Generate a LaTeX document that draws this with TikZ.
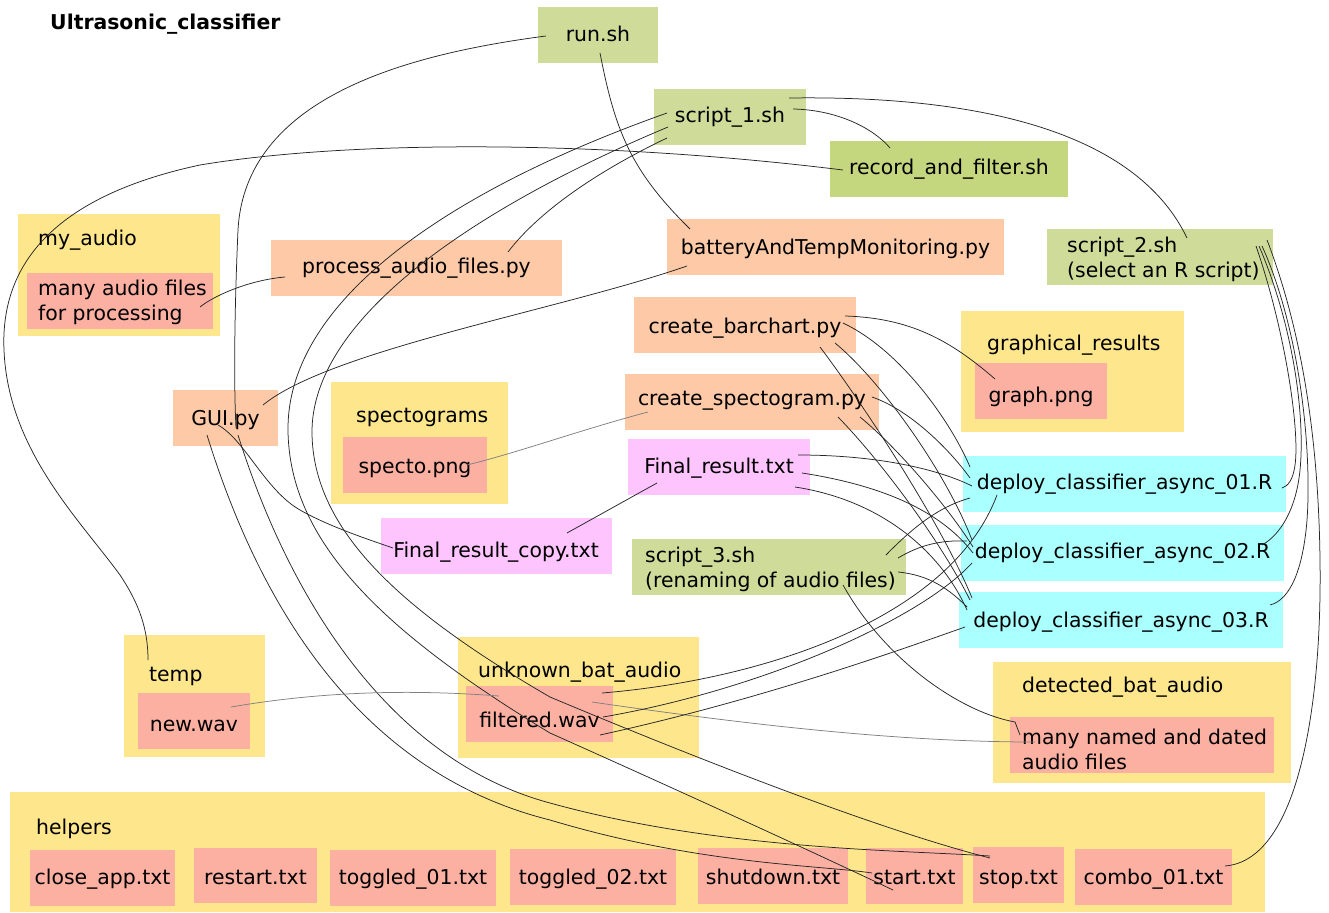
\documentclass[tikz,border=0pt]{standalone}
\usepackage{fontspec}
\setmainfont{DejaVu Sans}
\definecolor{yel}{RGB}{253,230,140}
\definecolor{sal}{RGB}{252,176,162}
\definecolor{ora}{RGB}{253,201,166}
\definecolor{grn}{RGB}{207,219,153}
\definecolor{grnd}{RGB}{197,215,126}
\definecolor{pnk}{RGB}{253,196,253}
\definecolor{cyn}{RGB}{170,255,255}
\newcommand\myfz{\fontsize{20.4}{25}\selectfont}
\begin{document}
\begin{tikzpicture}[x=1pt,y=-1pt,
  bx/.style={inner sep=0pt, outer sep=0pt, text depth=4pt, text height=#1, font=\myfz, minimum height=56pt},
  bx/.default=17pt,
  ctr/.style={inner sep=0pt, outer sep=0pt, fill=yel},
  lbl/.style={inner sep=0pt, anchor=west, text height=17pt, text depth=4pt, font=\myfz},
  ml/.style={inner sep=0pt, anchor=west, align=left, font=\myfz},
  wire/.style={draw=black!85, line width=0.75pt},
  gwire/.style={draw=black!50, line width=0.75pt}]
\useasboundingbox (0,0) rectangle (1329,912);
\node[lbl, font=\myfz\bfseries] (title) at (50,23.5) {Ultrasonic\_classifier};
% containers
\node[ctr, minimum width=202pt, minimum height=122pt] (myaudio) at (119,275) {};
\node[ctr, minimum width=223pt, minimum height=121pt] (graphres) at (1072.5,371.5) {};
\node[ctr, minimum width=177pt, minimum height=122pt] (spectos) at (419.5,443) {};
\node[ctr, minimum width=298pt, minimum height=121pt] (detected) at (1142,722.5) {};
\node[ctr, minimum width=141pt, minimum height=122pt] (temp) at (194.5,696) {};
\node[ctr, minimum width=241pt, minimum height=121pt] (unknown) at (578.5,697.5) {};
\node[ctr, minimum width=1255pt, minimum height=120pt] (helpers) at (637.5,852) {};
\node[lbl] (myaudiol) at (38,238.5) {my\_audio};
\node[lbl] (graphresl) at (987,343.5) {graphical\_results};
\node[lbl] (spectosl) at (356,415.5) {spectograms};
\node[lbl] (detectedl) at (1022,685.5) {detected\_bat\_audio};
\node[lbl] (templ) at (149,674.5) {temp};
\node[lbl] (unknownl) at (478,670.5) {unknown\_bat\_audio};
\node[lbl] (helpersl) at (36,827.5) {helpers};
% boxes
\node[bx=18pt, fill=grn, minimum width=120pt] (run) at (598,35) {run.sh};
\node[bx=16pt, fill=grn, minimum width=152pt] (s1) at (730,117) {script\_1.sh};
\node[bx=16pt, fill=grnd, minimum width=238pt] (raf) at (949,169) {record\_and\_filter.sh};
\node[bx, fill=grn, minimum width=226pt] (s2) at (1160,257) {};
\node[ml] (s2t) at (1067,259) {script\_2.sh\\(select an R script)};
\node[bx=18pt, fill=ora, minimum width=337pt] (bat) at (835.5,247) {batteryAndTempMonitoring.py};
\node[bx=14pt, fill=ora, minimum width=291pt] (proc) at (416.5,268) {process\_audio\_files.py};
\node[bx, fill=sal, minimum width=186pt] (many) at (120,301) {};
\node[ml] (manyt) at (38,302) {many audio files\\for processing};
\node[bx=20pt, fill=ora, minimum width=222pt] (bar) at (745,325) {create\_barchart.py};
\node[bx=26pt, fill=sal, minimum width=132pt] (graph) at (1041,391) {graph.png};
\node[bx=18pt, fill=ora, minimum width=105pt] (gui) at (225.5,418) {GUI.py};
\node[bx=20pt, fill=sal, minimum width=144pt] (specto) at (415,465) {specto.png};
\node[bx=10pt, fill=ora, minimum width=254pt] (spec) at (752,402) {create\_spectogram.py};
\node[bx=16pt, fill=pnk, minimum width=182pt] (fr) at (719,467) {Final\_result.txt};
\node[bx=26pt, fill=pnk, minimum width=231pt] (frc) at (496,546) {Final\_result\_copy.txt};
\node[bx, fill=grn, minimum width=274pt] (s3) at (769,567) {};
\node[ml] (s3t) at (645,569) {script\_3.sh\\(renaming of audio files)};
\node[bx=14pt, fill=cyn, minimum width=323pt] (d1) at (1124.5,484) {deploy\_classifier\_async\_01.R};
\node[bx=14pt, fill=cyn, minimum width=323pt] (d2) at (1122.5,553) {deploy\_classifier\_async\_02.R};
\node[bx=19pt, fill=cyn, minimum width=324pt] (d3) at (1121,619.5) {deploy\_classifier\_async\_03.R};
\node[bx, fill=sal, minimum width=264pt] (named) at (1142,745) {};
\node[ml] (namedt) at (1022,749) {many named and dated\\audio files};
\node[bx=24pt, fill=sal, minimum width=112pt] (newwav) at (194,721) {new.wav};
\node[bx=30pt, fill=sal, minimum width=147pt] (filtered) at (539.5,714) {filtered.wav};
\node[bx=16pt, fill=sal, minimum width=145pt] (close) at (102.5,878) {close\_app.txt};
\node[bx=21pt, fill=sal, minimum width=123pt, minimum height=55pt] (restart) at (255.5,875.5) {restart.txt};
\node[bx=16pt, fill=sal, minimum width=166pt] (tog1) at (413,878) {toggled\_01.txt};
\node[bx=18pt, fill=sal, minimum width=166pt] (tog2) at (593,877) {toggled\_02.txt};
\node[bx=20pt, fill=sal, minimum width=150pt] (shutdown) at (773,876) {shutdown.txt};
\node[bx=20pt, fill=sal, minimum width=97pt] (start) at (914.5,876) {start.txt};
\node[bx=22pt, fill=sal, minimum width=91pt] (stop) at (1018.5,875) {stop.txt};
\node[bx=18pt, fill=sal, minimum width=157pt] (combo) at (1153.5,877) {combo\_01.txt};
% connectors
\draw[wire] ([shift={(-52,1)}]run.center) .. controls (400,55) and (245,100) .. (238,230) .. controls (234,320) and (234,390) .. ([shift={(10.5,10)}]gui.center);
\draw[wire] ([shift={(2,18)}]run.center) .. controls (615,130) and (630,170) .. ([shift={(-145.5,-18)}]bat.center);
\draw[wire] ([shift={(63,-8)}]s1.center) .. controls (840,110) and (875,130) .. ([shift={(-59,-21)}]raf.center);
\draw[wire] ([shift={(59,-19)}]s1.center) .. controls (1000,95) and (1140,140) .. ([shift={(27,-19)}]s2.center);
\draw[wire] ([shift={(-106,1)}]raf.center) .. controls (600,140) and (350,140) .. (200,165) .. controls (60,195) and (0,260) .. (4,350) .. controls (8,450) and (80,520) .. (120,575) .. controls (140,605) and (148,630) .. ([shift={(-46.5,-36)}]temp.center);
\draw[wire] ([shift={(-63,21)}]s1.center) .. controls (600,170) and (540,210) .. ([shift={(91.5,-16)}]proc.center);
\draw[wire] ([shift={(-63,-4)}]s1.center) .. controls (450,190) and (287,300) .. (288,430) .. controls (289,540) and (380,630) .. (550,733) .. controls (700,800) and (830,860) .. ([shift={(-21.5,14)}]start.center);
\draw[wire] ([shift={(-62,10)}]s1.center) .. controls (470,210) and (311,320) .. (312,433) .. controls (313,530) and (400,610) .. (550,697) .. controls (700,760) and (880,830) .. ([shift={(-28.5,-17)}]stop.center);
\draw[wire] ([shift={(-18.5,17)}]gui.center) .. controls (255,590) and (350,770) .. (550,820) .. controls (700,865) and (820,865) .. ([shift={(-42.5,-3)}]start.center);
\draw[wire] ([shift={(12.5,17)}]gui.center) .. controls (290,600) and (390,760) .. (550,803) .. controls (720,850) and (900,850) .. ([shift={(-28.5,-19)}]stop.center);
\draw[wire] ([shift={(-7.5,7)}]gui.center) .. controls (245,440) and (265,490) .. (300,510) .. controls (330,527) and (370,540) .. ([shift={(-103,2)}]frc.center);
\draw[wire] ([shift={(-148.5,19)}]bat.center) .. controls (560,310) and (330,350) .. ([shift={(37.5,-13)}]gui.center);
\draw[wire] ([shift={(-131.5,9)}]proc.center) .. controls (250,280) and (215,295) .. ([shift={(80,6)}]many.center);
\draw[wire] ([shift={(100,-9)}]bar.center) .. controls (910,318) and (950,340) .. ([shift={(-46,-12)}]graph.center);
\draw[gwire] ([shift={(-104,10)}]spec.center) .. controls (580,430) and (520,452) .. ([shift={(52,0)}]specto.center);
\draw[wire] ([shift={(-62,16)}]fr.center) -- ([shift={(71,-13)}]frc.center);
\draw[gwire] ([shift={(37,-14)}]newwav.center) .. controls (330,690) and (420,690) .. ([shift={(-40.5,-18)}]filtered.center);
\draw[gwire] ([shift={(52.5,-12)}]filtered.center) .. controls (750,725) and (900,742) .. ([shift={(-107,-3)}]named.center);
\draw[wire] ([shift={(74,18)}]s3.center) .. controls (885,660) and (960,712) .. (1015,722) -- ([shift={(-122,-10)}]named.center);
\draw[wire] ([shift={(71.5,-11)}]combo.center) .. controls (1300,860) and (1322,700) .. (1320,560) .. controls (1318,400) and (1290,300) .. ([shift={(107,-17)}]s2.center);
\draw[wire] ([shift={(96,-11)}]s2.center) .. controls (1285,330) and (1300,430) .. (1295,465) .. controls (1293,480) and (1288,486) .. ([shift={(157.5,4)}]d1.center);
\draw[wire] ([shift={(99,-11)}]s2.center) .. controls (1295,330) and (1305,420) .. (1300,470) .. controls (1296,510) and (1280,535) .. ([shift={(139.5,-8)}]d2.center);
\draw[wire] ([shift={(102,-11)}]s2.center) .. controls (1300,330) and (1312,450) .. (1307,520) .. controls (1303,570) and (1290,600) .. ([shift={(149,-14.5)}]d3.center);
\draw[wire] ([shift={(98,-2)}]bar.center) .. controls (900,350) and (950,420) .. ([shift={(-154.5,-17)}]d1.center);
\draw[wire] ([shift={(90,18)}]bar.center) .. controls (880,380) and (945,470) .. ([shift={(-150.5,-13)}]d2.center);
\draw[wire] ([shift={(75,22)}]bar.center) .. controls (860,400) and (940,520) .. ([shift={(-149,-21.5)}]d3.center);
\draw[wire] ([shift={(120,-5)}]spec.center) .. controls (910,410) and (950,450) .. ([shift={(-154.5,-6)}]d1.center);
\draw[wire] ([shift={(108,15)}]spec.center) .. controls (900,450) and (950,510) .. ([shift={(-149.5,-6)}]d2.center);
\draw[wire] ([shift={(86,15)}]spec.center) .. controls (880,460) and (940,540) .. ([shift={(-151,-19.5)}]d3.center);
\draw[wire] ([shift={(79,-12)}]fr.center) .. controls (880,455) and (940,470) .. ([shift={(-152.5,2)}]d1.center);
\draw[wire] ([shift={(83,6)}]fr.center) .. controls (880,485) and (940,510) .. ([shift={(-149.5,0)}]d2.center);
\draw[wire] ([shift={(76,20)}]fr.center) .. controls (880,500) and (940,550) .. ([shift={(-154,-9.5)}]d3.center);
\draw[wire] ([shift={(117,-12)}]s3.center) .. controls (920,520) and (945,505) .. ([shift={(-154.5,14)}]d1.center);
\draw[wire] ([shift={(129,-9)}]s3.center) .. controls (920,545) and (940,540) .. ([shift={(-155.5,-12)}]d2.center);
\draw[wire] ([shift={(129,5)}]s3.center) .. controls (930,575) and (950,590) .. ([shift={(-154,-12.5)}]d3.center);
\draw[wire] ([shift={(62.5,-21)}]filtered.center) .. controls (760,680) and (950,620) .. ([shift={(-127.5,11)}]d1.center);
\draw[wire] ([shift={(63.5,3)}]filtered.center) .. controls (760,690) and (920,620) .. ([shift={(-150.5,10)}]d2.center);
\draw[wire] ([shift={(60.5,21)}]filtered.center) .. controls (760,700) and (900,650) .. ([shift={(-156,7.5)}]d3.center);
\end{tikzpicture}
\end{document}
